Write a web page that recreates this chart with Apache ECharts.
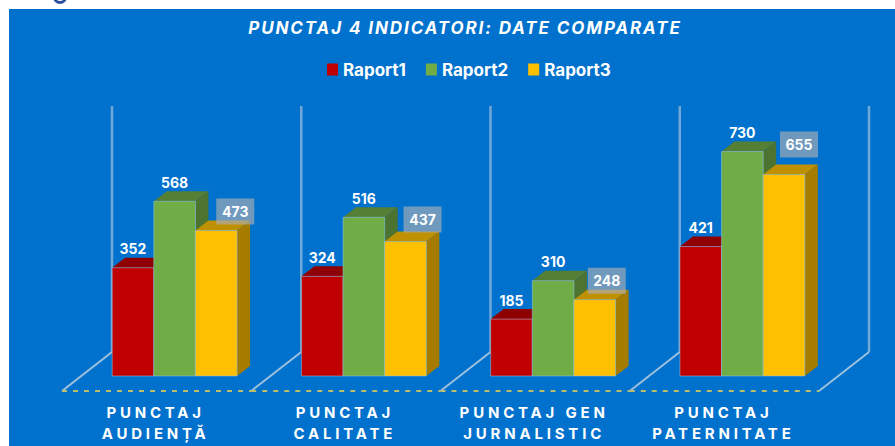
<!DOCTYPE html>
<html lang="ro">
<head>
    <meta charset="UTF-8"/>
    <title>Punctaj 4 indicatori</title>
    <style>
        html, body { margin: 0; padding: 0; background: #fff; }
        #panel { position: absolute; left: 9px; top: 9px; width: 886px; height: 437px; background: #0071cc; }
        #chart { position: absolute; left: 0; top: 0; width: 895px; height: 446px; }
        /* zrender nu are letterSpacing, asa ca il punem din css pe textele svg */
        #chart text[style*="italic"] { letter-spacing: 1.9px; }
        #chart text[style*="15px"] { letter-spacing: 3.8px; }
    </style>
</head>
<body>
<div id="panel"></div>
<div id="chart"></div>
<script src="https://cdn.jsdelivr.net/npm/echarts@6/dist/echarts.min.js"></script>
<script type="text/javascript">
    var categories = ['PUNCTAJ\nAUDIENȚĂ', 'PUNCTAJ\nCALITATE', 'PUNCTAJ GEN\nJURNALISTIC', 'PUNCTAJ\nPATERNITATE'];
    var raport1 = [352, 324, 185, 421];
    var raport2 = [568, 516, 310, 730];
    var raport3 = [473, 437, 248, 655];
    var axisMax = 800;

    var fontName = 'Inter, Lato, sans-serif';

    // adancimea falsa 3d: cat se muta peretii si linia din fata fata de planul barelor
    var backDx = 32, backDy = -24, frontDx = -18, frontDy = 15;
    var sideDx = 13, sideDy = -10;
    // etichetele cu fundal sunt mutate de mana in original, fiecare altfel
    var boxShiftX = [19, 17, 12, 15];
    var boxShiftY = [0, -3, 0, -11];

    function barRenderer(order, front, top, side, boxed) {
        return function (params, api) {
            var idx = api.value(0);
            var base = api.coord([idx, 0]);
            var peak = api.coord([idx, api.value(1)]);
            var w = api.size([1, 0])[0] * 0.22;
            var x = base[0] + (order - 1.5) * w;
            var xr = x + w;
            var y = peak[1], y0 = base[1];
            var edge = 'rgba(150,195,225,0.55)';
            var children = [
                {type: 'polygon', shape: {points: [[x, y], [x + sideDx, y + sideDy], [xr + sideDx, y + sideDy], [xr, y]]},
                    style: {fill: top}},
                {type: 'polygon', shape: {points: [[xr, y], [xr + sideDx, y + sideDy], [xr + sideDx, y0 + sideDy], [xr, y0]]},
                    style: {fill: side}},
                {type: 'rect', shape: {x: x, y: y, width: w, height: y0 - y},
                    style: {fill: front, stroke: edge, lineWidth: 1}}
            ];
            var cx = x + w / 2, cy = y - 19;
            if (boxed) {
                cx += boxShiftX[idx];
                cy += boxShiftY[idx];
                children.push({type: 'rect', shape: {x: cx - 19, y: cy - 13, width: 38, height: 26},
                    style: {fill: 'rgba(170,175,182,0.65)'}});
            }
            children.push({type: 'text', style: {
                x: cx, y: cy, text: String(api.value(1)), fill: '#fff',
                font: 'bold 14px ' + fontName, align: 'center', verticalAlign: 'middle'
            }});
            return {type: 'group', children: children};
        };
    }

    function frameRenderer(params, api) {
        var i = api.value(0);
        var band = api.size([1, 0])[0];
        var p = api.coord([i, 0]), t = api.coord([i, axisMax]);
        var wallColor = 'rgba(175,198,222,0.65)';
        var floorColor = 'rgba(195,212,226,0.8)';
        var children = [];
        function corner(x) {
            children.push({type: 'line', shape: {x1: x + backDx, y1: t[1] + backDy, x2: x + backDx, y2: p[1] + backDy},
                style: {stroke: wallColor, lineWidth: 2.5}});
            children.push({type: 'line', shape: {x1: x + backDx, y1: p[1] + backDy, x2: x + frontDx, y2: p[1] + frontDy},
                style: {stroke: floorColor, lineWidth: 2}});
        }
        corner(p[0] - band / 2);
        if (i === categories.length - 1) corner(p[0] + band / 2);
        children.push({type: 'line', shape: {
            x1: p[0] - band / 2 + frontDx, y1: p[1] + frontDy,
            x2: p[0] + band / 2 + frontDx, y2: p[1] + frontDy
        }, style: {stroke: '#b9bd6c', lineWidth: 2, lineDash: [5, 6]}});
        return {type: 'group', children: children};
    }

    function points(values) {
        return values.map(function (v, i) { return [i, v]; });
    }

    var myChart = echarts.init(document.getElementById('chart'), null, {renderer: 'svg'});
    var option = {
        backgroundColor: 'transparent',
        animation: false,
        // restul literei de deasupra panoului, taiata in poza
        graphic: [{
            type: 'arc',
            shape: {cx: 60, cy: -3, r: 5.5, startAngle: 0, endAngle: Math.PI},
            style: {stroke: '#2b4f9e', lineWidth: 3, fill: null}
        }],
        title: {
            text: 'PUNCTAJ 4 INDICATORI: DATE COMPARATE',
            left: 460,
            textAlign: 'center',
            top: 14,
            textStyle: {color: '#fff', fontFamily: fontName, fontStyle: 'italic', fontWeight: 'bold', fontSize: 17}
        },
        legend: {
            data: ['Raport1', 'Raport2', 'Raport3'],
            top: 56,
            left: 322,
            icon: 'rect',
            itemWidth: 11,
            itemHeight: 12,
            itemGap: 20,
            textStyle: {color: '#fff', fontFamily: fontName, fontWeight: 'bold', fontSize: 17}
        },
        grid: {left: 80, width: 757, top: 130, bottom: 70},
        xAxis: {
            type: 'category',
            data: categories,
            axisLine: {show: false},
            axisTick: {show: false},
            axisLabel: {
                interval: 0,
                margin: 26,
                color: '#fff',
                fontFamily: fontName,
                fontWeight: 'bold',
                fontSize: 15,
                lineHeight: 21,
                padding: [0, 38, 0, 0]
            }
        },
        yAxis: {type: 'value', min: 0, max: axisMax, show: false},
        series: [
            {name: 'frame', type: 'custom', renderItem: frameRenderer, data: points(raport1), silent: true},
            {name: 'Raport1', type: 'custom', itemStyle: {color: '#c00000'}, data: points(raport1),
                renderItem: barRenderer(0, '#c00000', '#8f0000', '#8f0000', false)},
            {name: 'Raport2', type: 'custom', itemStyle: {color: '#70ad47'}, data: points(raport2),
                renderItem: barRenderer(1, '#70ad47', '#557f35', '#4c732f', false)},
            {name: 'Raport3', type: 'custom', itemStyle: {color: '#ffc000'}, data: points(raport3),
                renderItem: barRenderer(2, '#ffc000', '#bf9000', '#a67c00', true)}
        ]
    };
    myChart.setOption(option);
</script>
</body>
</html>
